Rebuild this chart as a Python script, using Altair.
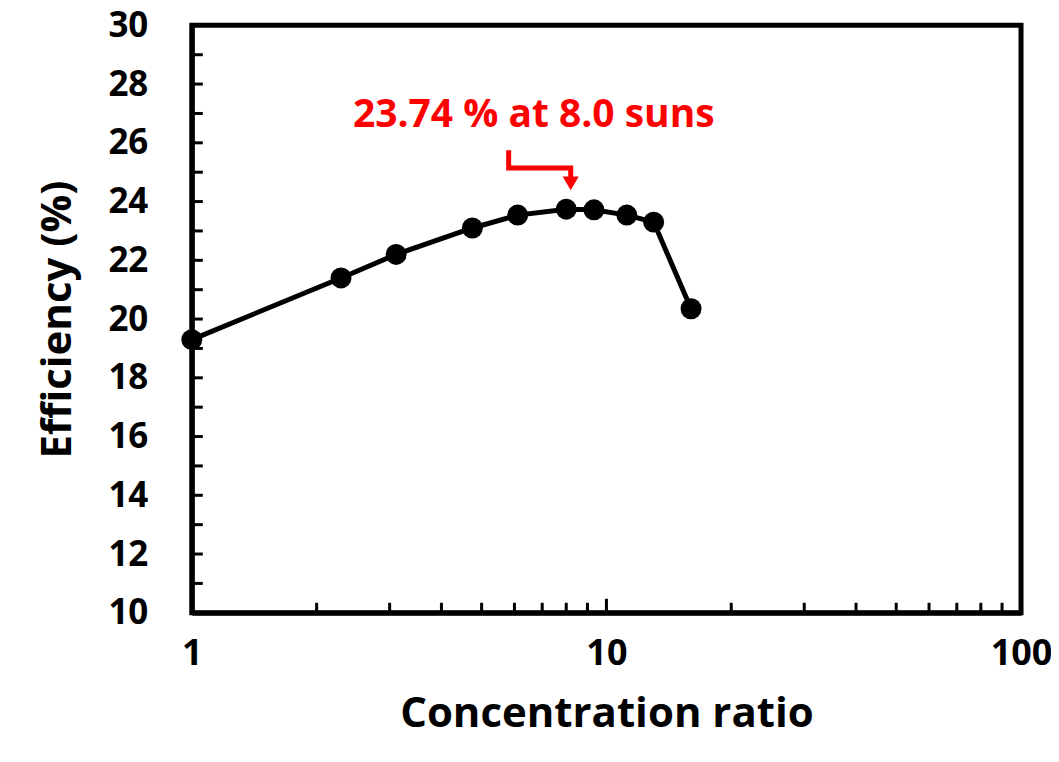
import altair as alt
import pandas as pd

# data
conc = [1.0, 2.29, 3.11, 4.75, 6.11, 8.0, 9.33, 11.2, 13.0, 16.0]
eff = [19.3, 21.4, 22.2, 23.1, 23.54, 23.74, 23.72, 23.54, 23.3, 20.35]

y_minor = list(range(11, 30))
x_minor = [2, 3, 4, 5, 6, 7, 8, 9, 20, 30, 40, 50, 60, 70, 80, 90]
x_major = [10]

ann_text = ["23.74 % at 8.0 suns"]
ann_x = [6.68]
ann_y = [26.95]
arrow_x = [5.81, 5.81, 8.2, 8.2]
arrow_y = [25.75, 25.14, 25.14, 24.8]
head_x = [8.2]
head_y = [24.62]

W, H = 830, 588
FONT = "Open Sans"

xs = alt.Scale(type="log", domain=[1, 100])
ys = alt.Scale(domain=[10, 30])

df = pd.DataFrame({"c": conc, "e": eff})

base_x = alt.X("c:Q", scale=xs,
               axis=alt.Axis(values=[1, 10, 100], title="Concentration ratio",
                             ticks=False, grid=False, labelPadding=24,
                             titlePadding=22, domainColor="black", domainWidth=5,
                             labelFontSize=36, titleFontSize=42,
                             labelFont=FONT, titleFont=FONT,
                             labelFontWeight="bold", titleFontWeight="bold",
                             labelColor="black", titleColor="black",
                             labelFlush=False, format="d"))
base_y = alt.Y("e:Q", scale=ys,
               axis=alt.Axis(values=list(range(10, 31, 2)), title="Efficiency (%)",
                             ticks=False, grid=False, labelPadding=44,
                             titlePadding=28, domainColor="black", domainWidth=5,
                             labelFontSize=35, titleFontSize=42,
                             labelFont=FONT, titleFont=FONT,
                             labelFontWeight="bold", titleFontWeight="bold",
                             labelColor="black", titleColor="black",
                             labelFlush=False))

line = alt.Chart(df).mark_line(color="black", strokeWidth=5).encode(x=base_x, y=base_y)
pts = alt.Chart(df).mark_circle(color="black", size=440, opacity=1).encode(
    x=alt.X("c:Q", scale=xs), y=alt.Y("e:Q", scale=ys))

yt = alt.Chart(pd.DataFrame({"v": y_minor})).mark_rule(color="black", strokeWidth=3).encode(
    y=alt.Y("v:Q", scale=ys), x=alt.value(0), x2=alt.value(11))
xt = alt.Chart(pd.DataFrame({"v": x_minor})).mark_rule(color="black", strokeWidth=3).encode(
    x=alt.X("v:Q", scale=xs), y=alt.value(H), y2=alt.value(H - 10))
xtm = alt.Chart(pd.DataFrame({"v": x_major})).mark_rule(color="black", strokeWidth=3).encode(
    x=alt.X("v:Q", scale=xs), y=alt.value(H), y2=alt.value(H - 14))

txt = alt.Chart(pd.DataFrame({"c": ann_x, "e": ann_y, "t": ann_text})).mark_text(
    color="#ff0000", font=FONT, fontWeight="bold", fontSize=39, align="center",
    baseline="middle").encode(
    x=alt.X("c:Q", scale=xs), y=alt.Y("e:Q", scale=ys), text="t:N")

arr = alt.Chart(pd.DataFrame({"c": arrow_x, "e": arrow_y, "o": list(range(len(arrow_x)))})).mark_line(
    color="#ff0000", strokeWidth=5).encode(
    x=alt.X("c:Q", scale=xs), y=alt.Y("e:Q", scale=ys), order="o:O")
head = alt.Chart(pd.DataFrame({"c": head_x, "e": head_y})).mark_point(
    shape="triangle-down", filled=True, color="#ff0000", size=260, opacity=1).encode(
    x=alt.X("c:Q", scale=xs), y=alt.Y("e:Q", scale=ys))

chart = alt.layer(line, pts, yt, xt, xtm, arr, head, txt).properties(
    width=W, height=H,
    background="white",
    autosize=alt.AutoSizeParams(type="none"),
    padding={"left": 184, "top": 17, "right": 30, "bottom": 140},
).configure_view(stroke="black", strokeWidth=5)

chart.save("out.html", embed_options={"renderer": "svg", "actions": False})
